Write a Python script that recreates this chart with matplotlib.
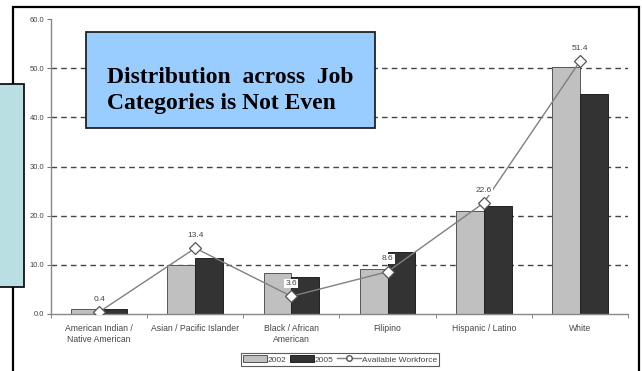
import matplotlib
matplotlib.use("Agg")
import matplotlib.pyplot as plt
import numpy as np
from matplotlib.patches import Rectangle, Patch
from matplotlib.lines import Line2D

categories = ["American Indian /\nNative American", "Asian / Pacific Islander",
              "Black / African\nAmerican", "Filipino", "Hispanic / Latino", "White"]
values_2002 = [1.0, 10.0, 8.4, 9.2, 21.0, 50.2]
values_2005 = [1.0, 11.4, 7.6, 12.7, 22.0, 44.7]
workforce = [0.4, 13.4, 3.6, 8.6, 22.6, 51.4]
workforce_labels = ["0.4", "13.4", "3.6", "8.6", "22.6", "51.4"]
yticks = [0, 10, 20, 30, 40, 50, 60]

W, H = 642, 371
fig = plt.figure(figsize=(W / 100, H / 100), dpi=100)
fig.patch.set_facecolor("white")

def fx(px): return px / W
def fy(py): return 1 - py / H

# outer frame
fig.add_artist(Rectangle((fx(13), fy(380)), fx(639) - fx(13), fy(7) - fy(380),
                         transform=fig.transFigure, fill=False, edgecolor="black", lw=1.6, zorder=0))

ax = fig.add_axes([fx(51), fy(314), fx(628) - fx(51), fy(19) - fy(314)])
ax.set_facecolor("none")
n = len(categories)
x = np.arange(n)
bw = 0.29
ax.bar(x - bw / 2, values_2002, bw, color="#c0c0c0", edgecolor="#555555", lw=0.7, zorder=2, label="2002")
ax.bar(x + bw / 2, values_2005, bw, color="#333333", edgecolor="#222222", lw=0.7, zorder=2, label="2005")
ax.plot(x, workforce, color="#808080", lw=1.0, marker="D", markersize=6.5,
        markerfacecolor="white", markeredgecolor="#555555", markeredgewidth=0.9, zorder=4)
for xi, v, lab in zip(x, workforce, workforce_labels):
    ax.text(xi, v + 1.9, lab, ha="center", va="bottom", fontsize=6, color="#444444",
            family="Liberation Sans", zorder=5,
            bbox=dict(boxstyle="square,pad=0.15", facecolor="white", edgecolor="none"))

ax.set_xlim(-0.5, n - 0.5)
ax.set_ylim(0, 60)
ax.set_yticks(yticks)
ax.set_yticklabels([f"{t:.1f}" for t in yticks], fontsize=5.5, color="#444444", family="Liberation Sans")
for t in yticks[1:-1]:
    ax.axhline(t, color="#444444", lw=1.0, ls=(0, (4, 3)), zorder=1)
ax.set_xticks(x)
ax.set_xticklabels(categories, fontsize=6.2, color="#444444", family="Liberation Sans",
                   linespacing=1.35)
ax.tick_params(axis="x", length=0, pad=7)
ax.set_xticks(np.arange(-0.5, n, 1.0), minor=True)
ax.tick_params(axis="x", which="minor", length=3, color="#777777", direction="out")
ax.tick_params(axis="y", length=3, color="#777777", pad=2)
for s in ["top", "right"]:
    ax.spines[s].set_visible(False)
for s in ["left", "bottom"]:
    ax.spines[s].set_color("#888888")
    ax.spines[s].set_linewidth(1.0)

handles = [Patch(facecolor="#c0c0c0", edgecolor="#555555", lw=0.7),
           Patch(facecolor="#333333", edgecolor="#222222", lw=0.7),
           Line2D([], [], color="#808080", lw=1.0, marker="o", markersize=4,
                  markerfacecolor="white", markeredgecolor="#555555")]
leg = fig.legend(handles, ["2002", "2005", "Available Workforce"], loc="center",
                 bbox_to_anchor=(fx(340), fy(359.5)), ncol=3, frameon=True,
                 fancybox=False, edgecolor="#333333", handlelength=2.8, handleheight=0.8,
                 handletextpad=0.1, columnspacing=0.5, borderpad=0.3, borderaxespad=0,
                 prop=dict(family="Liberation Sans", size=6))
leg.get_frame().set_linewidth(0.8)
for t in leg.get_texts():
    t.set_color("#444444")

# teal box on left
fig.add_artist(Rectangle((fx(-5), fy(287)), fx(24) - fx(-5), fy(84) - fy(287),
                         transform=fig.transFigure, facecolor="#b9dfe3", edgecolor="black",
                         lw=1.2, zorder=10))

# blue callout box
fig.add_artist(Rectangle((fx(86), fy(128)), fx(375) - fx(86), fy(32) - fy(128),
                         transform=fig.transFigure, facecolor="#99ccff", edgecolor="#222222",
                         lw=1.3, zorder=10))
fig.text(fx(107), fy(83), "Distribution  across  Job", fontsize=17, fontweight="bold",
         family="Liberation Serif", ha="left", va="baseline", zorder=11)
fig.text(fx(107), fy(109), "Categories is Not Even", fontsize=17, fontweight="bold",
         family="Liberation Serif", ha="left", va="baseline", zorder=11)

fig.savefig("out.png", dpi=100)
